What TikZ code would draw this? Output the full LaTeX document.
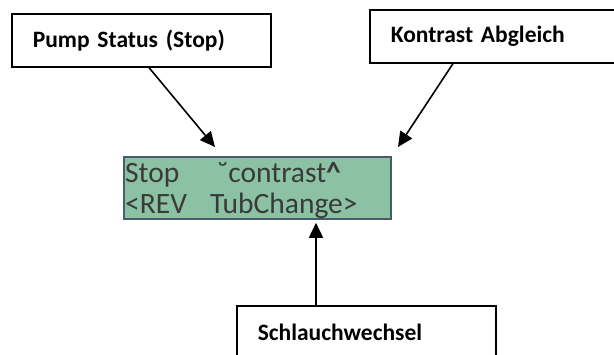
\documentclass[tikz,border=0pt]{standalone}
\usepackage{fontspec}
\setmainfont{Carlito}
\usepackage{xcolor}
\usepackage{tikz}
\usetikzlibrary{arrows.meta,positioning}

\definecolor{lcdgreen}{HTML}{8CC2A4}
\definecolor{lcdedge}{HTML}{4A5C6B}
\definecolor{lcdtext}{HTML}{3A3A3A}

\begin{document}
\begin{tikzpicture}[x=1pt, y=-1pt, every node/.style={inner sep=2pt}]
        \tikzset{
            lbl/.style={draw, line width=1.6pt, anchor=north west, align=left, text width=217pt, inner xsep=21pt, minimum height=53pt, font=\fontsize{23.5}{27}\selectfont\bfseries},
            lcd/.style={draw=lcdedge, fill=lcdgreen, line width=1.8pt, anchor=north west, minimum width=267pt, minimum height=62pt},
            lcdline/.style={anchor=base west, inner sep=0pt, text=lcdtext, font=\fontsize{29.5}{31}\selectfont},
            arr/.style={-{Triangle[length=15pt, width=14pt]}, line width=1.6pt}
        }
        \useasboundingbox (0,0) rectangle (614,354);
        \clip (0,0) rectangle (614,354);
        \node[lbl] (pump) at (11,13) {Pump Status (Stop)};
        \node[lbl] (kontrast) at (369,9) {Kontrast Abgleich};
        \node[lbl] (schlauch) at (236,305) {Schlauchwechsel};
        \node[lcd] (display) at (123,156) {};
        \node[lcdline] (row1) at (125,182) {\makebox[92pt][l]{Stop}˘contrast\textbf{\textasciicircum}};
        \node[lcdline] (row2) at (125,213) {\makebox[85pt][l]{<REV}TubChange>};
        \coordinate (tipL) at (215,147);
        \coordinate (tipR) at (398,147);
        \draw[arr] ([xshift=138pt]pump.south west) -- (tipL);
        \draw[arr] ([xshift=84pt]kontrast.south west) -- (tipR);
        \draw[arr] ([xshift=80pt]schlauch.north west) -- ([xshift=193pt, yshift=-3pt]display.south west);
    \end{tikzpicture}
\end{document}
